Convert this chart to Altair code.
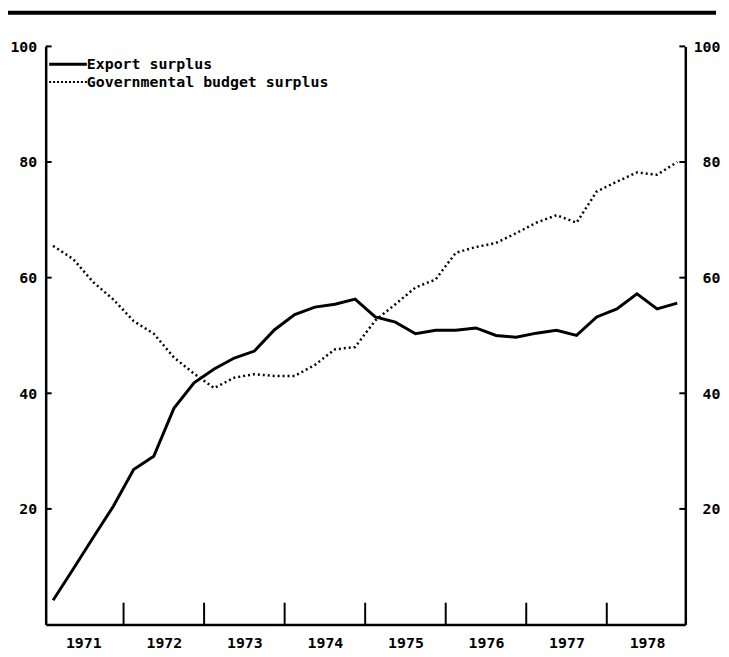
import altair as alt
import pandas as pd

# Quarterly observations (quarter mid-points, decimal years)
years = [1971.125, 1971.375, 1971.625, 1971.875,
         1972.125, 1972.375, 1972.625, 1972.875,
         1973.125, 1973.375, 1973.625, 1973.875,
         1974.125, 1974.375, 1974.625, 1974.875,
         1975.125, 1975.375, 1975.625, 1975.875,
         1976.125, 1976.375, 1976.625, 1976.875,
         1977.125, 1977.375, 1977.625, 1977.875,
         1978.125, 1978.375, 1978.625, 1978.875]

export_surplus = [4.2, 9.6, 15.1, 20.5, 26.8, 29.1, 37.4, 41.8,
                  44.2, 46.1, 47.3, 51.0, 53.6, 54.9, 55.4, 56.3,
                  53.2, 52.3, 50.3, 50.9, 50.9, 51.3, 50.0, 49.7,
                  50.4, 50.9, 50.0, 53.2, 54.6, 57.2, 54.6, 55.6]

budget_surplus = [65.5, 63.2, 59.2, 56.2, 52.5, 50.3, 46.2, 43.4,
                  40.9, 42.7, 43.3, 43.0, 43.0, 44.9, 47.6, 48.0,
                  52.6, 55.4, 58.3, 59.7, 64.3, 65.3, 66.0, 67.7,
                  69.5, 70.8, 69.5, 74.9, 76.6, 78.2, 77.8, 80.0]

series_names = ["Export surplus", "Governmental budget surplus"]
year_ticks = [1972, 1973, 1974, 1975, 1976, 1977, 1978]
year_label_pos = [1971.5, 1972.5, 1973.5, 1974.5, 1975.5, 1976.5, 1977.5, 1978.5]
y_ticks = [20, 40, 60, 80, 100]

W, H = 645, 583
FONT = "DejaVu Sans Mono"
FS = 15

df = pd.DataFrame({"year": years,
                   "export": export_surplus,
                   "budget": budget_surplus})
ticks_df = pd.DataFrame({"t": year_ticks})
yticks_df = pd.DataFrame({"v": y_ticks})
legend_df = pd.DataFrame({"label": series_names})

xs = alt.Scale(domain=[1971.033, 1978.975], nice=False, zero=False)
ys = alt.Scale(domain=[0, 100], nice=False, zero=False)

x_axis = alt.Axis(values=year_label_pos, labelExpr="'' + floor(datum.value)",
                  orient="bottom", ticks=False, tickSize=0, grid=False, title=None,
                  domainWidth=2.5, domainColor="black", labelPadding=11,
                  labelFont=FONT, labelFontWeight="bold", labelFontSize=FS,
                  labelColor="black")

left_axis = alt.Axis(values=y_ticks, orient="left", ticks=False, tickSize=0,
                     grid=False, title=None, domainWidth=2.5, domainColor="black",
                     labelPadding=9, labelFont=FONT, labelFontWeight="bold",
                     labelFontSize=FS, labelColor="black")

right_axis = alt.Axis(values=y_ticks, orient="right", ticks=False, tickSize=0,
                      grid=False, title=None, domainWidth=2.5, domainColor="black",
                      labelPadding=35, labelAlign="right", labelFont=FONT,
                      labelFontWeight="bold", labelFontSize=FS, labelColor="black")

export_line = alt.Chart(df).mark_line(color="black", strokeWidth=3).encode(
    x=alt.X("year:Q", scale=xs, axis=x_axis),
    y=alt.Y("export:Q", scale=ys, axis=left_axis),
)

budget_line = alt.Chart(df).mark_line(color="black", strokeWidth=2.5,
                                      strokeDash=[2, 3]).encode(
    x=alt.X("year:Q", scale=xs, axis=x_axis),
    y=alt.Y("budget:Q", scale=ys, axis=right_axis),
)

x_tick_marks = alt.Chart(ticks_df).mark_rule(color="black", strokeWidth=2).encode(
    x=alt.X("t:Q", scale=xs, axis=x_axis),
    y=alt.value(H),
    y2=alt.value(H - 22),
)

left_ticks = alt.Chart(yticks_df).mark_rule(color="black", strokeWidth=2).encode(
    y=alt.Y("v:Q", scale=ys, axis=None),
    x=alt.value(0),
    x2=alt.value(6),
)

right_ticks = alt.Chart(yticks_df).mark_rule(color="black", strokeWidth=2).encode(
    y=alt.Y("v:Q", scale=ys, axis=None),
    x=alt.value(W),
    x2=alt.value(W - 6),
)

top_rule = alt.Chart(legend_df).transform_filter(
    alt.datum.label == series_names[0]
).mark_rule(color="black", strokeWidth=4).encode(
    x=alt.value(-38), x2=alt.value(676), y=alt.value(-34)
)

leg_export_line = alt.Chart(legend_df).transform_filter(
    alt.datum.label == series_names[0]
).mark_rule(color="black", strokeWidth=3).encode(
    x=alt.value(3.5), x2=alt.value(41.5), y=alt.value(18)
)
leg_budget_line = alt.Chart(legend_df).transform_filter(
    alt.datum.label == series_names[1]
).mark_rule(color="black", strokeWidth=2, strokeDash=[2, 2]).encode(
    x=alt.value(3.5), x2=alt.value(41.5), y=alt.value(36)
)
leg_export_text = alt.Chart(legend_df).transform_filter(
    alt.datum.label == series_names[0]
).mark_text(align="left", baseline="middle", font=FONT, fontWeight="bold",
            fontSize=FS, color="black").encode(
    text="label:N", x=alt.value(41.5), y=alt.value(18)
)
leg_budget_text = alt.Chart(legend_df).transform_filter(
    alt.datum.label == series_names[1]
).mark_text(align="left", baseline="middle", font=FONT, fontWeight="bold",
            fontSize=FS, color="black").encode(
    text="label:N", x=alt.value(41.5), y=alt.value(36)
)

chart = alt.layer(
    export_line, budget_line, x_tick_marks, left_ticks, right_ticks,
    top_rule, leg_export_line, leg_budget_line, leg_export_text, leg_budget_text
).resolve_scale(y="independent").properties(
    width=W, height=H,
    autosize=alt.AutoSizeParams(type="none"),
    padding={"left": 38, "top": 36, "right": 36, "bottom": 28},
    view=alt.ViewBackground(stroke="transparent", strokeWidth=0),
).configure_view(stroke="transparent", strokeWidth=0).configure_axis(
    grid=False, domainColor="black", labelColor="black"
).configure(background="white")

chart.save("out.html", embed_options={"renderer": "svg", "actions": False})
